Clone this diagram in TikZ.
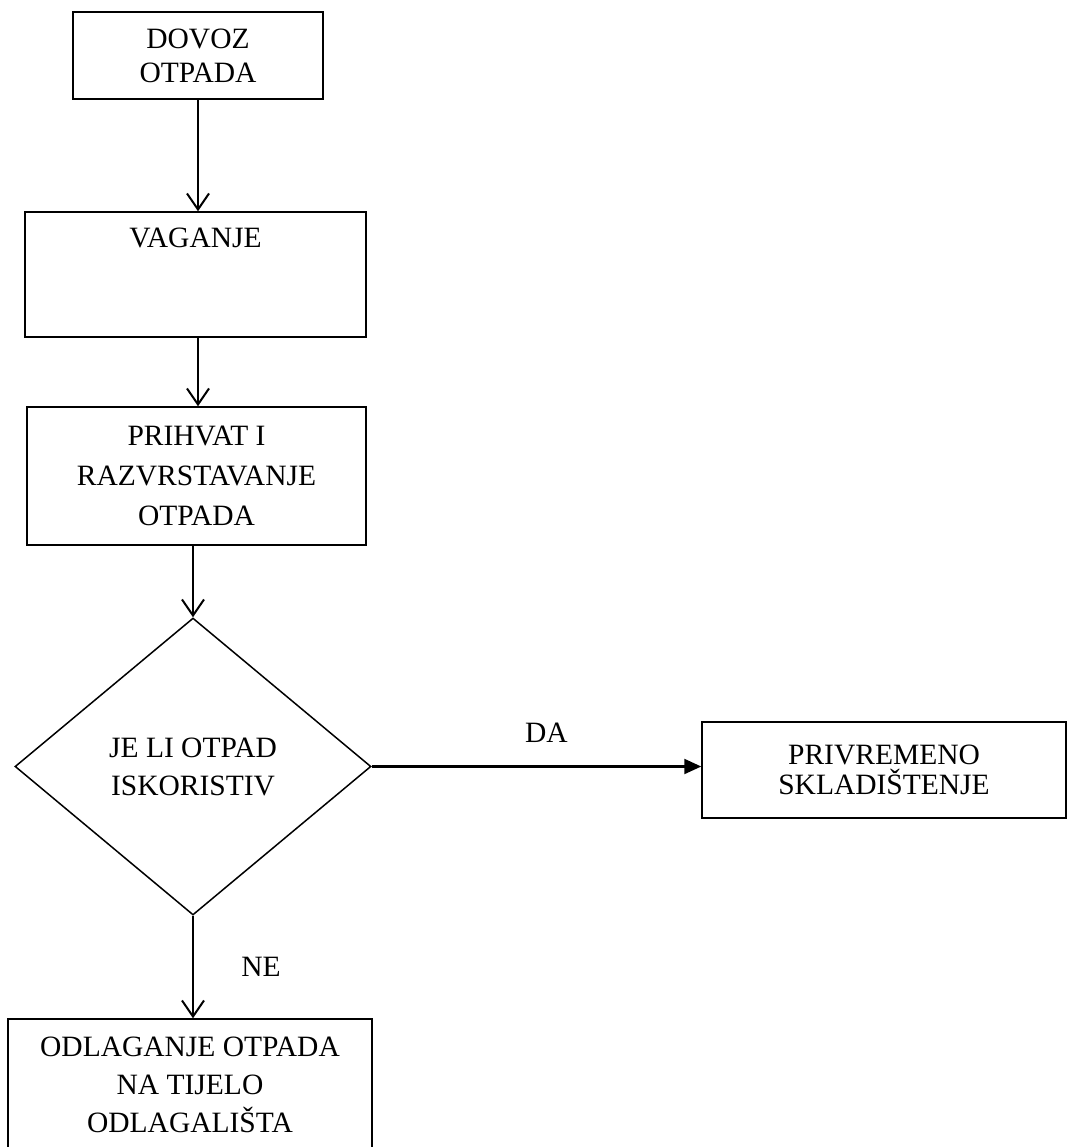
\documentclass[tikz,border=0pt]{standalone}
\usepackage{fontspec}
\setmainfont{Liberation Serif}
\usepackage{tikz}
\usetikzlibrary{arrows.meta,positioning,shapes.geometric}

\begin{document}
\begin{tikzpicture}[x=1pt,y=-1pt,
	font=\fontsize{29.5}{38}\selectfont,
	box/.style={draw,rectangle,line width=1.5pt,align=center,inner sep=0pt},
	odluka/.style={draw,diamond,line width=1.5pt,align=center,inner sep=0pt},
	arr/.style={line width=2pt,-{Straight Barb[length=16pt,width=22pt]}},
	arrda/.style={line width=2.2pt,-{Triangle[length=17pt,width=15pt]}}]
\useasboundingbox (0,0) rectangle (1067,1147);

\node[box,minimum width=250,minimum height=87,font=\fontsize{29.5}{34}\selectfont] (dovoz) at (198,55.5){DOVOZ\\OTPADA};
\node[box,minimum width=341,minimum height=125] (vaganje) at (195.5,274.5){};
\node[below=17pt of vaganje.north,inner sep=0pt] (vagtekst){VAGANJE};
\node[box,minimum width=339,minimum height=138,font=\fontsize{29.5}{40}\selectfont] (prihvat) at (196.5,476){PRIHVAT I\\RAZVRSTAVANJE\\OTPADA};
\node[odluka,minimum width=356,minimum height=297] (odluka) at (193,766.5){JE LI OTPAD\\ISKORISTIV};
\node[box,minimum width=364,minimum height=96,font=\fontsize{29.5}{30}\selectfont] (privremeno) at (884,770){PRIVREMENO\\SKLADIŠTENJE};
\node[box,minimum width=364,minimum height=132] (odlaganje) at (190,1085){ODLAGANJE OTPADA\\NA TIJELO\\ODLAGALIŠTA};

%vertical arrows
\draw[arr] (dovoz.south) -- (dovoz.south |- vaganje.north);
\draw[arr] (vaganje.south -| dovoz.south) -- (dovoz.south |- prihvat.north);
\draw[arr] (odluka.north |- prihvat.south) -- (odluka.north);
\draw[arr] (odluka.south) -- node[right=44pt]{NE} (odluka.south |- odlaganje.north);
%horizontal arrow
\draw[arrda] (odluka.east) -- node[above=20pt,pos=0.53]{DA} (odluka.east -| privremeno.west);
\end{tikzpicture}
\end{document}
